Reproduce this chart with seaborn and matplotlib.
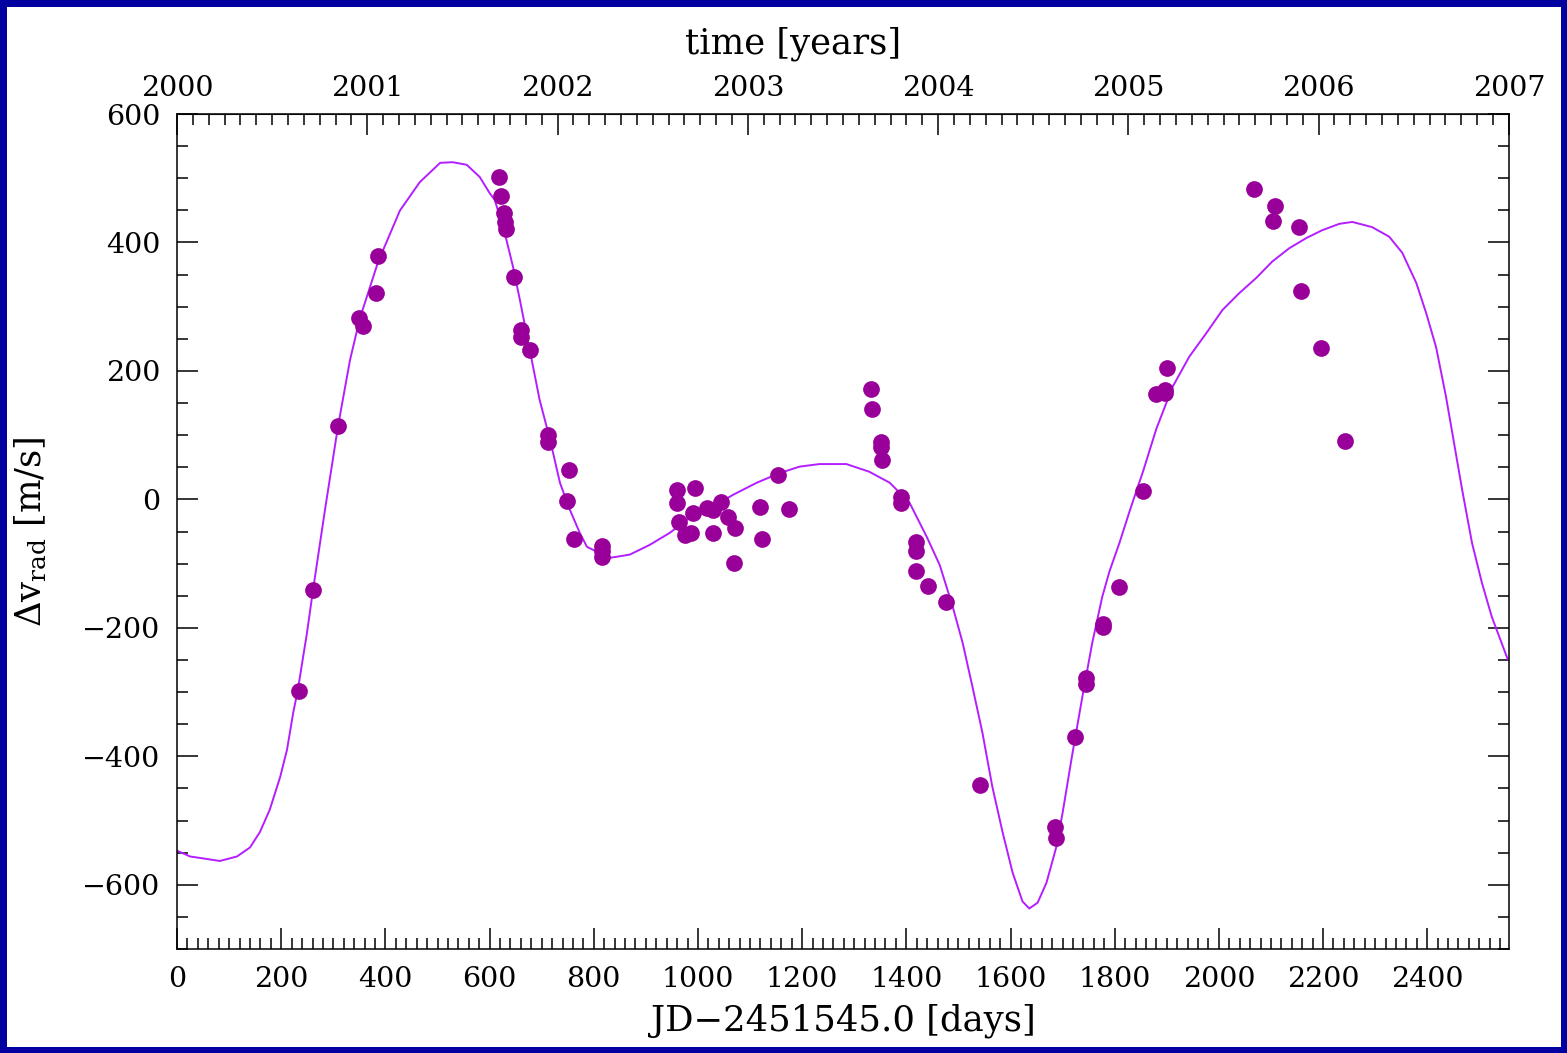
import numpy as np
import pandas as pd
import seaborn as sns
import matplotlib.pyplot as plt
from matplotlib.ticker import MultipleLocator, FixedLocator

# radial velocity measurements (days since JD 2451545.0, m/s)
obs_day = [234, 261, 309, 349, 357, 382, 386, 618, 622, 627, 629, 631, 646, 660, 660,
           677, 712, 712, 752, 748, 762, 815, 815, 815,
           960, 960, 963, 976, 987, 994, 990, 1017, 1028, 1028, 1044, 1057, 1072, 1070,
           1120, 1122, 1153, 1174,
           1333, 1335, 1352, 1352, 1354, 1389, 1389, 1419, 1418, 1419, 1441, 1477, 1542,
           1686, 1688, 1723, 1744, 1744, 1778, 1778, 1809, 1855, 1880, 1897, 1897, 1901,
           2068, 2108, 2104, 2154, 2158, 2196, 2242]
obs_vel = [-299, -141, 114, 282, 270, 321, 379, 502, 472, 446, 432, 421, 346, 264, 253,
           233, 100, 90, 46, -2, -61, -72, -80, -89,
           15, -5, -35, -55, -52, 18, -21, -13, -16, -52, -4, -27, -44, -99,
           -12, -61, 38, -15,
           172, 141, 89, 82, 61, 4, -5, -66, -80, -111, -135, -160, -444,
           -510, -528, -370, -278, -287, -194, -198, -136, 13, 164, 170, 165, 205,
           483, 457, 433, 424, 325, 236, 91]

# orbital fit
fit_day = [0, 25, 50, 82, 115, 140, 159, 178, 198, 211, 223, 232, 242, 249, 261, 284,
           309, 332, 351, 386, 428, 466, 505, 529, 556, 581, 600, 610, 629, 645, 658,
           677, 696, 716, 735, 754, 773, 787, 831, 869, 907, 946, 978, 1020, 1044, 1067,
           1113, 1157, 1195, 1233, 1285, 1329, 1368, 1406, 1439, 1464, 1489, 1508, 1527,
           1546, 1565, 1585, 1604, 1623, 1636, 1652, 1669, 1688, 1700, 1719, 1738, 1757,
           1776, 1790, 1809, 1830, 1855, 1880, 1911, 1943, 1976, 2007, 2039, 2072, 2102,
           2135, 2168, 2198, 2231, 2256, 2294, 2327, 2352, 2379, 2398, 2417, 2436, 2448,
           2467, 2486, 2505, 2524, 2555]
fit_vel = [-547, -556, -559, -563, -556, -542, -518, -483, -432, -390, -332, -296, -245,
           -210, -141, -16, 114, 217, 282, 370, 450, 494, 524, 525, 521, 502, 477, 466,
           415, 362, 311, 233, 155, 93, 26, -16, -52, -74, -91, -86, -71, -52, -32, -14,
           -4, 7, 26, 41, 51, 55, 55, 43, 26, -5, -58, -102, -167, -223, -292, -363,
           -447, -519, -581, -626, -637, -628, -597, -541, -488, -395, -307, -223, -152,
           -112, -68, -15, 45, 110, 175, 222, 259, 295, 321, 345, 370, 391, 407, 419, 429,
           432, 424, 409, 384, 337, 290, 237, 160, 104, 15, -68, -130, -183, -250]

obs = pd.DataFrame({"day": obs_day, "vel": obs_vel})
fit = pd.DataFrame({"day": fit_day, "vel": fit_vel})

sns.set_style("ticks")
plt.rcParams["font.family"] = ["DejaVu Serif"]
plt.rcParams["mathtext.fontset"] = "dejavuserif"
for key in ["text.color", "axes.labelcolor", "xtick.color", "ytick.color"]:
    plt.rcParams[key] = "black"

fig = plt.figure(figsize=(15.67, 10.53), dpi=100, facecolor="white",
                 edgecolor="#0000a0", linewidth=9)
ax = fig.add_axes([0.113, 0.0988, 0.850, 0.7929])

sns.lineplot(data=fit, x="day", y="vel", color="#b41eff", lw=1.4, sort=False, ax=ax)
sns.scatterplot(data=obs, x="day", y="vel", color="#990099", s=145, linewidth=0,
                ax=ax, zorder=3)

ax.set_xlim(0, 2557)
ax.set_ylim(-700, 600)
ax.xaxis.set_major_locator(MultipleLocator(200))
ax.xaxis.set_minor_locator(MultipleLocator(20))
ax.yaxis.set_major_locator(MultipleLocator(200))
ax.yaxis.set_minor_locator(MultipleLocator(50))
ax.tick_params(which="both", direction="in", top=False, right=True, width=1.1,
               labelsize=20.5, pad=12)
ax.tick_params(which="major", length=15)
ax.tick_params(which="minor", length=8)
for sp in ax.spines.values():
    sp.set_linewidth(1.1)
    sp.set_color("black")

sec = ax.secondary_xaxis("top", functions=(lambda d: 2000 + d / 365.25,
                                           lambda y: (y - 2000) * 365.25))
sec.xaxis.set_major_locator(FixedLocator(np.arange(2000, 2008)))
sec.xaxis.set_minor_locator(MultipleLocator(1 / 12))
sec.xaxis.set_major_formatter("{x:.0f}")
sec.tick_params(which="both", direction="in", width=1.1, labelsize=20.5, pad=9)
sec.tick_params(which="major", length=15)
sec.tick_params(which="minor", length=8)
sec.set_xlabel("time [years]", fontsize=25.5)
sec.xaxis.set_label_coords(0.4625, 1.072, transform=ax.transAxes)

ax.set_xlabel("JD\u22122451545.0 [days]", fontsize=25.5, labelpad=8)
ax.set_ylabel(r"$\Delta\mathrm{v}_{\mathrm{rad}}$ [m/s]", fontsize=25.5, labelpad=24)

fig.savefig("out.png", dpi=100)
